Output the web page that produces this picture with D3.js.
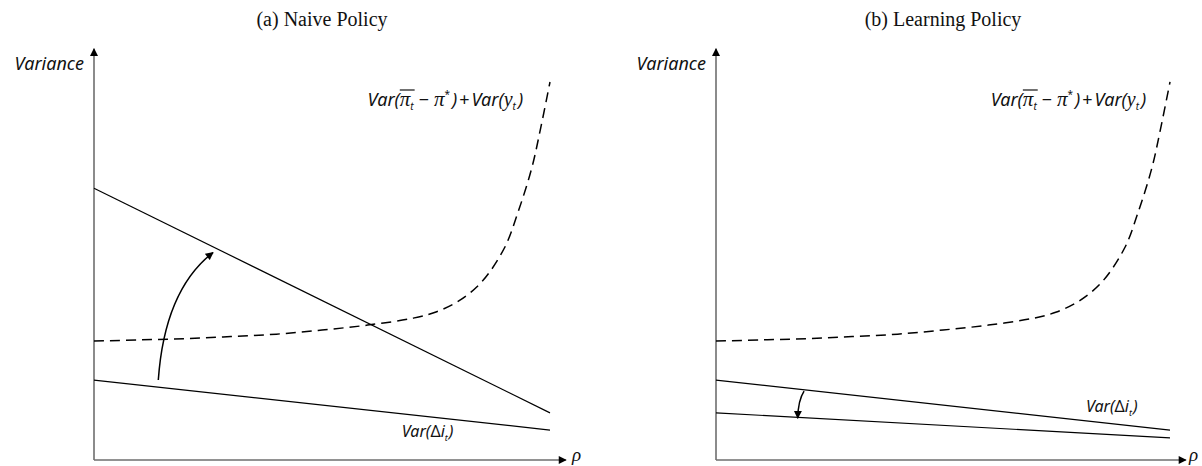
<!DOCTYPE html>
<html><head><meta charset="utf-8">
<script src="https://cdn.jsdelivr.net/npm/d3@7/dist/d3.min.js"></script>
<style>body{margin:0;background:#fff}svg{display:block}</style>
</head><body>
<svg id="chart" width="1202" height="466"></svg>
<script>
// ---- data (rho in [0,1], variance in arbitrary units) ----
const panelTitles = ["(a) Naive Policy", "(b) Learning Policy"];
const rhoGrid = [0, 0.1, 0.2, 0.3, 0.4, 0.5, 0.6, 0.7, 0.75, 0.8, 0.85, 0.9, 0.93, 0.96, 0.98, 1.0];
const lossVar = [2.90, 2.93, 2.96, 3.01, 3.07, 3.17, 3.29, 3.46, 3.61, 3.88, 4.34, 5.17, 6.05, 7.12, 8.12, 9.22];
const lineRho = [0, 1];
const naiveHigh = [6.63, 1.15];
const naiveLow = [1.95, 0.73];
const learnHigh = [1.95, 0.73];
const learnLow = [1.15, 0.54];

const svg = d3.select("#chart");
const y = d3.scaleLinear().domain([0, 10]).range([460, 50]);
const panels = [
  {title: panelTitles[0], x: d3.scaleLinear().domain([0, 1]).range([94, 550]),
   lines: [naiveHigh, naiveLow], formulaRho: 0.60, dLabel: [0.675, 0.56], rhoLab: 1.048,
   arrow: [[0.141, 1.95], [0.155, 4.15], [0.261, 5.06]]},
  {title: panelTitles[1], x: d3.scaleLinear().domain([0, 1]).range([716, 1170]),
   lines: [learnHigh, learnLow], formulaRho: 0.605, dLabel: [0.815, 1.16], rhoLab: 1.042,
   arrow: [[0.194, 1.68], [0.181, 1.46], [0.18, 1.02]]}
];

const defs = svg.append("defs");
defs.append("marker").attr("id", "ah").attr("viewBox", "0 0 10 10")
  .attr("refX", 9).attr("refY", 5).attr("markerWidth", 9).attr("markerHeight", 8)
  .attr("markerUnits", "userSpaceOnUse").attr("orient", "auto")
  .append("path").attr("d", "M0,0L10,5L0,10Z").attr("fill", "#000");

const sans = "'Noto Sans', 'Open Sans', sans-serif";
const serif = "'Liberation Serif', 'DejaVu Serif', serif";

panels.forEach(p => {
  const x = p.x;
  const g = svg.append("g");
  // title
  g.append("text").attr("x", (x(0) + x(1)) / 2).attr("y", 26)
    .attr("text-anchor", "middle").attr("font-family", serif).attr("font-size", 20)
    .attr("fill", "#111").text(p.title);
  // axes
  g.append("line").attr("x1", x(0)).attr("y1", y(0)).attr("x2", x(0)).attr("y2", y(10.03))
    .attr("stroke", "#6e6e6e").attr("stroke-width", 1.6).attr("marker-end", "url(#ah)");
  g.append("line").attr("x1", x(0)).attr("y1", y(0)).attr("x2", x(1.035)).attr("y2", y(0))
    .attr("stroke", "#6e6e6e").attr("stroke-width", 1.6).attr("marker-end", "url(#ah)");
  g.append("text").attr("x", x(0) - 10).attr("y", 70).attr("text-anchor", "end")
    .attr("font-family", sans).attr("font-style", "italic").attr("font-size", 18)
    .attr("fill", "#111").text("Variance");
  g.append("text").attr("x", x(p.rhoLab)).attr("y", y(0) + 1)
    .attr("font-family", serif).attr("font-style", "italic").attr("font-size", 19)
    .attr("fill", "#111").text("ρ");
  // dashed loss curve
  const line = d3.line().x(d => x(d[0])).y(d => y(d[1])).curve(d3.curveCatmullRom.alpha(0.5));
  g.append("path").datum(rhoGrid.map((r, i) => [r, lossVar[i]]))
    .attr("d", line).attr("fill", "none").attr("stroke", "#000")
    .attr("stroke-width", 1.5).attr("stroke-dasharray", "10,6");
  // solid lines
  p.lines.forEach(vals => {
    g.append("path").datum(lineRho.map((r, i) => [r, vals[i]]))
      .attr("d", d3.line().x(d => x(d[0])).y(d => y(d[1])))
      .attr("fill", "none").attr("stroke", "#000").attr("stroke-width", 1.2);
  });
  // curved arrow
  const a = p.arrow;
  g.append("path")
    .attr("d", `M${x(a[0][0])},${y(a[0][1])}Q${x(a[1][0])},${y(a[1][1])} ${x(a[2][0])},${y(a[2][1])}`)
    .attr("fill", "none").attr("stroke", "#000").attr("stroke-width", 1.5)
    .attr("marker-end", "url(#ah)");
  // formula label
  const t = g.append("text").attr("x", x(p.formulaRho)).attr("y", 106)
    .attr("font-family", sans).attr("font-style", "italic").attr("font-size", 18).attr("fill", "#111");
  t.append("tspan").text("Var(");
  t.append("tspan").attr("font-family", serif).attr("font-size", 21).text("π");
  t.append("tspan").attr("font-size", 10).attr("dy", 4).text("t");
  t.append("tspan").attr("dy", -4).attr("dx", 5).attr("font-style", "normal").text("−");
  t.append("tspan").attr("dx", 5).attr("font-family", serif).attr("font-size", 21).text("π");
  t.append("tspan").attr("font-size", 10).attr("dy", -8).attr("font-style", "normal").text("*");
  t.append("tspan").attr("dy", 8).attr("dx", 2).text(")");
  t.append("tspan").attr("font-style", "normal").attr("dx", 2).text("+");
  t.append("tspan").attr("dx", 2).text("Var(");
  t.append("tspan").attr("font-family", serif).attr("font-size", 20).text("y");
  t.append("tspan").attr("font-size", 10).attr("dy", 4).text("t");
  t.append("tspan").attr("dy", -4).attr("dx", 2).text(")");
  // overline above pi_t
  const tn = t.node();
  const ePi = tn.getExtentOfChar(4);
  const eSub = tn.getExtentOfChar(5);
  g.append("line").attr("x1", ePi.x).attr("x2", eSub.x + eSub.width + 1)
    .attr("y1", ePi.y + 3).attr("y2", ePi.y + 3).attr("stroke", "#111").attr("stroke-width", 1.2);
  // Var(Δi_t) label
  const t2 = g.append("text").attr("x", x(p.dLabel[0])).attr("y", y(p.dLabel[1]))
    .attr("font-family", sans).attr("font-style", "italic").attr("font-size", 16).attr("fill", "#111");
  t2.append("tspan").text("Var(");
  t2.append("tspan").attr("font-style", "normal").text("Δ");
  t2.append("tspan").text("i");
  t2.append("tspan").attr("font-size", 9).attr("dy", 4).text("t");
  t2.append("tspan").attr("dy", -4).attr("dx", 1).text(")");
});
</script>
</body></html>
